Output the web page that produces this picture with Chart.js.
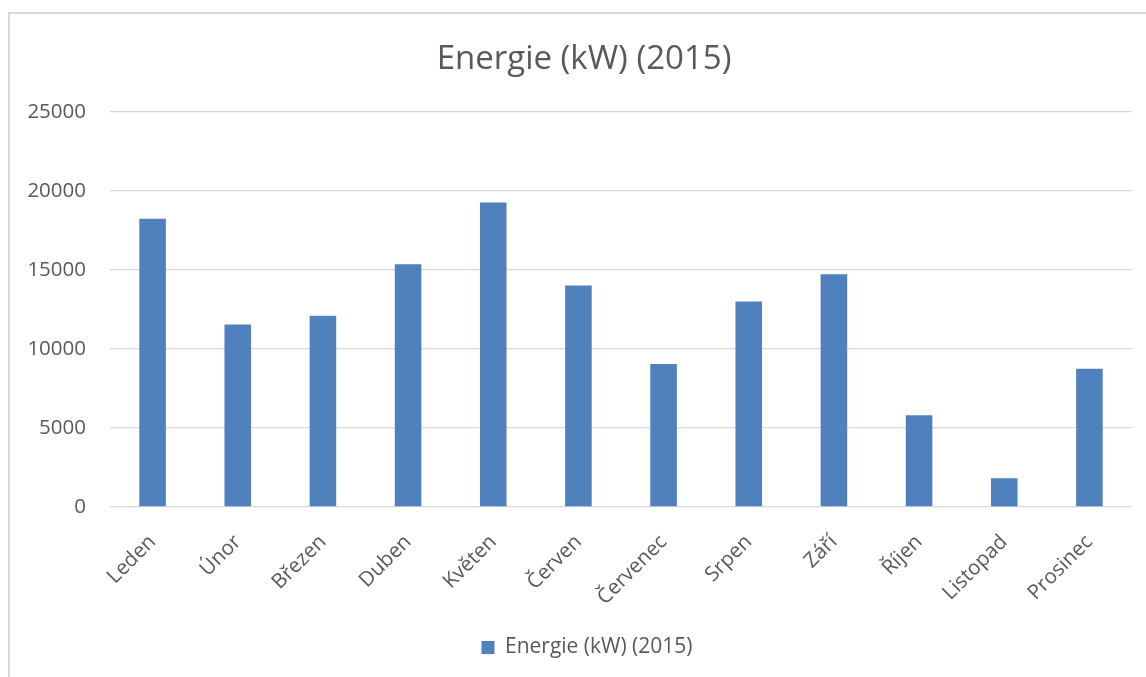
<!DOCTYPE html>
<html>
<head>
<meta charset="utf-8">
<script src="https://cdn.jsdelivr.net/npm/chart.js"></script>
<style>
  html, body { margin: 0; padding: 0; background: #ffffff; overflow: hidden; }
  #frame { position: absolute; left: 8px; top: 12px; width: 1400px; height: 900px;
           border-left: 2px solid #d9d9d9; border-top: 2px solid #d9d9d9; }
  #wrap { position: absolute; left: 0; top: 0; width: 1146px; height: 677px; }
</style>
</head>
<body>
<div id="frame"></div>
<div id="wrap"><canvas id="c" width="1146" height="677"></canvas></div>
<script>
const titleText = "Energie (kW) (2015)";
const seriesName = "Energie (kW) (2015)";
const months = ["Leden", "Únor", "Březen", "Duben", "Květen", "Červen", "Červenec", "Srpen", "Září", "Říjen", "Listopad", "Prosinec"];
const energy = [18250, 11550, 12100, 15370, 19280, 14020, 9060, 13010, 14740, 5810, 1820, 8760];
const yTicks = [0, 5000, 10000, 15000, 20000, 25000];

const FONT = "'Open Sans', 'DejaVu Sans', sans-serif";
const GREY = "#595959";

// shift the centred title/legend boxes slightly right, as in the reference
const boxShift = {
  id: 'boxShift',
  afterLayout(chart) {
    if (chart.titleBlock) { chart.titleBlock.left += 8; chart.titleBlock.right += 8; }
    if (chart.legend) { chart.legend.left += 11; chart.legend.right += 11; }
  }
};

new Chart(document.getElementById('c'), {
  type: 'bar',
  data: {
    labels: months,
    datasets: [{
      label: seriesName,
      data: energy,
      backgroundColor: '#4f81bd',
      borderWidth: 0,
      categoryPercentage: 1.0,
      barPercentage: 0.312
    }]
  },
  plugins: [boxShift],
  options: {
    responsive: false,
    animation: false,
    devicePixelRatio: 1,
    layout: { padding: { left: 20, right: 14, top: 0, bottom: 9 } },
    plugins: {
      title: {
        display: true,
        text: titleText,
        color: GREY,
        font: { family: FONT, size: 33, weight: 'normal', lineHeight: 1.2 },
        padding: { top: 40, bottom: 32.5 }
      },
      legend: {
        display: true,
        position: 'bottom',
        labels: {
          color: GREY,
          font: { family: FONT, size: 21 },
          boxWidth: 13,
          boxHeight: 13,
          padding: 10
        }
      },
      tooltip: { enabled: false }
    },
    scales: {
      x: {
        grid: { display: false, drawTicks: false },
        border: { display: false },
        ticks: {
          color: GREY,
          font: { family: FONT, size: 20.5 },
          minRotation: 45,
          maxRotation: 45,
          padding: 23,
          autoSkip: false
        },
        afterFit: (s) => { s.height = 120; }
      },
      y: {
        min: 0,
        max: 25000,
        afterBuildTicks: (s) => { s.ticks = yTicks.map(v => ({ value: v })); },
        grid: { color: '#d9d9d9', lineWidth: 1.3, drawTicks: false },
        border: { display: false },
        ticks: {
          color: GREY,
          font: { family: FONT, size: 20.5 },
          padding: 24,
          callback: (v) => String(v)
        },
        afterFit: (s) => { s.width = 90; }
      }
    }
  }
});
</script>
</body>
</html>
